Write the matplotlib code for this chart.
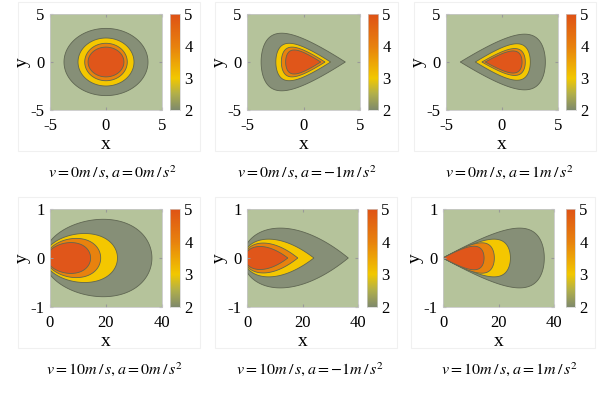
import numpy as np
import matplotlib
matplotlib.use("Agg")
import matplotlib.pyplot as plt
from matplotlib.colors import LinearSegmentedColormap
from matplotlib.patches import Rectangle

plt.rcParams['font.family'] = ['Liberation Serif', 'DejaVu Serif']
plt.rcParams['mathtext.fontset'] = 'stix'
plt.rcParams['axes.unicode_minus'] = False

# contour levels shown in every panel (outer -> inner)
levels = [2, 3, 4, 5]
captions = [r'$v=0m\,/\,s,a=0m\,/\,s^2$',
            r'$v=0m\,/\,s,a=-1m\,/\,s^2$',
            r'$v=0m\,/\,s,a=1m\,/\,s^2$',
            r'$v=10m\,/\,s,a=0m\,/\,s^2$',
            r'$v=10m\,/\,s,a=-1m\,/\,s^2$',
            r'$v=10m\,/\,s,a=1m\,/\,s^2$']

# rear end, front end and half height of each contour (levels 2,3,4,5)
p1_left = [-3.75, -2.5, -1.9, -1.6]
p1_right = [3.75, 2.5, 1.9, 1.6]
p1_half = [3.5, 2.5, 1.95, 1.55]

p2_left = [-3.75, -2.45, -1.96, -1.58]
p2_right = [3.7, 2.4, 1.9, 1.52]
p2_half = [3.0, 1.95, 1.55, 1.25]

p3_left = [-3.72, -2.38, -1.79, -1.49]
p3_right = [3.87, 2.53, 2.08, 1.79]
p3_half = [2.9, 1.9, 1.4, 1.15]

p4_left = [-2.2, -2.0, -1.3, -1.1]
p4_right = [36.4, 24.1, 18.1, 14.5]
p4_half = [0.79, 0.50, 0.40, 0.315]

p5_left = [-1.5, -1.2, -1.0, -0.8]
p5_right = [36.5, 24.1, 18.3, 14.7]
p5_half = [0.61, 0.385, 0.305, 0.235]

p6_left = [0, 0, 0, 0]
p6_right = [36.5, 24.3, 18.5, 14.8]
p6_half = [0.61, 0.385, 0.31, 0.24]

lefts = [p1_left, p2_left, p3_left, p4_left, p5_left, p6_left]
rights = [p1_right, p2_right, p3_right, p4_right, p5_right, p6_right]
halves = [p1_half, p2_half, p3_half, p4_half, p5_half, p6_half]
# tip side (+1 pointed to the right, -1 to the left, 0 round) and body shift
tips = [0, 1, -1, 0, 1, -1]
shift = [0, -0.2, 0.2, 0.1, 0.05, 0.2]

xlims = [(-5, 5)] * 3 + [(0, 40)] * 3
ylims = [(-5, 5)] * 3 + [(-1, 1)] * 3
xticks = [[-5, 0, 5]] * 3 + [[0, 20, 40]] * 3
yticks = [[-5, 0, 5]] * 3 + [[-1, 0, 1]] * 3

cmap = LinearSegmentedColormap.from_list('risk', [
    (0.0, '#7f8a6c'), (0.17, '#b2b04a'), (0.33, '#f2c800'),
    (0.66, '#e8820e'), (1.0, '#df5216')])
bg = '#b5c39b'
fills = ['#868f77', '#f4c700', '#e8820e', '#e0561a']


def contour_shape(left, right, half, tip, w):
    t = np.linspace(0, 2 * np.pi, 600)
    u = np.cos(t)
    g = np.sqrt((1 - tip * u) / 2) if tip != 0 else np.ones_like(u)
    yy = np.sin(t) * g
    yy = yy / np.abs(yy).max() * half
    a = (right - left) / 2
    xx = (left + right) / 2 + a * u + w * a * (1 - u ** 2)
    return xx, yy


# pixel boxes of the axes and colorbars (x0, y0, x1, y1 from top-left)
W, Hgt = 605, 398
ax_px = [(50, 14, 162, 110), (247, 14, 360, 110), (446, 14, 558, 110),
         (50, 209, 162, 307), (247, 209, 358, 307), (443, 209, 554, 307)]
cb_px = [(170, 180), (368, 378), (566, 576),
         (170, 180), (367, 377), (566, 575)]
cap_px = [(113, 172), (307, 172), (510, 172),
          (115, 369), (310, 369), (510, 369)]


def frac(x0, y0, x1, y1):
    return [x0 / W, 1 - y1 / Hgt, (x1 - x0) / W, (y1 - y0) / Hgt]


fig = plt.figure(figsize=(W / 100, Hgt / 100), dpi=100)

for i in range(6):
    x0, y0, x1, y1 = ax_px[i]
    c0, c1 = cb_px[i]

    # faint frame of each sub-image
    fx = frac(x0 - 32, y0 - 12, c1 + 20, y1 + 41)
    fig.patches.append(Rectangle((fx[0], fx[1]), fx[2], fx[3],
                                 transform=fig.transFigure, fill=False,
                                 edgecolor='#f0f0f0', linewidth=0.8,
                                 zorder=-5))

    ax = fig.add_axes(frac(x0, y0, x1, y1))
    ax.set_facecolor(bg)
    for k in range(len(levels)):
        xx, yy = contour_shape(lefts[i][k], rights[i][k], halves[i][k],
                               tips[i], shift[i])
        ax.fill(xx, yy, color=fills[k], edgecolor='#5f6652', linewidth=0.6)
    ax.set_xlim(*xlims[i])
    ax.set_ylim(*ylims[i])
    ax.set_xticks(xticks[i])
    ax.set_yticks(yticks[i])
    ax.tick_params(labelsize=12, length=2, direction='in', color='#999999',
                   top=True, right=True)
    ax.tick_params(axis='x', pad=6)
    ax.tick_params(axis='y', pad=4)
    for s in ax.spines.values():
        s.set_color('#c8c8c8')
        s.set_linewidth(0.6)
    ax.set_xlabel('x', fontsize=14, labelpad=1)
    ax.set_ylabel('y', fontsize=14, labelpad=0)

    cax = fig.add_axes(frac(c0, y0, c1, y1))
    grad = np.linspace(levels[0], levels[-1], 256).reshape(-1, 1)
    cax.imshow(grad, aspect='auto', origin='lower', cmap=cmap,
               extent=[0, 1, levels[0], levels[-1]])
    cax.set_xticks([])
    cax.yaxis.tick_right()
    cax.set_yticks(levels)
    cax.tick_params(labelsize=12, length=0, pad=3)
    for s in cax.spines.values():
        s.set_color('#d0d0d0')
        s.set_linewidth(0.5)

    cx, cy = cap_px[i]
    fig.text(cx / W, 1 - cy / Hgt, captions[i], fontsize=11.5,
             ha='center', va='center')

fig.savefig('out.png', dpi=100)
